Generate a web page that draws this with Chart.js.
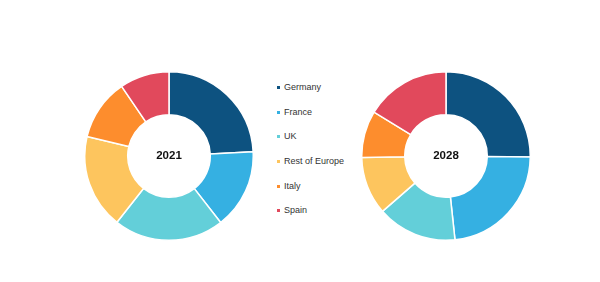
<!DOCTYPE html>
<html>
<head>
<meta charset="utf-8">
<script src="https://cdn.jsdelivr.net/npm/chart.js@4/dist/chart.umd.min.js"></script>
<style>
  html, body { margin: 0; padding: 0; background: #fff; }
  #wrap { position: relative; width: 600px; height: 282px; overflow: hidden; background: #fff; }
  canvas { position: absolute; }
  #c1 { left: 84px; top: 71px; }
  #c2 { left: 361px; top: 71px; }
  #legend { position: absolute; left: 276px; top: 81px; font-family: "Liberation Sans", Arial, sans-serif; font-size: 9px; color: #333; }
  .item { height: 24.7px; display: flex; align-items: flex-start; white-space: nowrap; line-height: 13px; }
  .sw { width: 3px; height: 3px; margin: 5px 4px 0 1px; flex: none; }
</style>
</head>
<body>
<div id="wrap">
  <canvas id="c1" width="170" height="170"></canvas>
  <canvas id="c2" width="170" height="170"></canvas>
  <div id="legend"></div>
</div>
<script>
const categories = ['Germany', 'France', 'UK', 'Rest of Europe', 'Italy', 'Spain'];
const share2021 = [24.2, 15.3, 21.1, 18.1, 11.8, 9.5];
const share2028 = [25.2, 23.1, 15.3, 11.1, 9.0, 16.3];
const yearLabels = ['2021', '2028'];
const colors = ['#0d5280', '#35b0e2', '#63cfd9', '#fdc55e', '#fd8d2d', '#e1495c'];

const centerText = {
  id: 'centerText',
  afterDraw(chart, args, opts) {
    const arc = chart.getDatasetMeta(0).data[0];
    if (!arc) return;
    const ctx = chart.ctx;
    ctx.save();
    ctx.font = 'bold 11.5px "Liberation Sans", Arial, sans-serif';
    ctx.fillStyle = '#111';
    ctx.textAlign = 'center';
    ctx.textBaseline = 'middle';
    ctx.fillText(opts.text, arc.x, arc.y);
    ctx.restore();
  }
};

function makeChart(id, values, year) {
  return new Chart(document.getElementById(id), {
    type: 'doughnut',
    data: {
      labels: categories,
      datasets: [{
        data: values,
        backgroundColor: colors,
        borderColor: '#ffffff',
        borderWidth: 1.5
      }]
    },
    options: {
      responsive: false,
      maintainAspectRatio: false,
      animation: false,
      cutout: '49%',
      layout: { padding: 0 },
      plugins: {
        legend: { display: false },
        tooltip: { enabled: false },
        centerText: { text: year }
      }
    },
    plugins: [centerText]
  });
}

makeChart('c1', share2021, yearLabels[0]);
makeChart('c2', share2028, yearLabels[1]);

const legend = document.getElementById('legend');
categories.forEach((name, i) => {
  const row = document.createElement('div');
  row.className = 'item';
  const sw = document.createElement('span');
  sw.className = 'sw';
  sw.style.background = colors[i];
  const tx = document.createElement('span');
  tx.textContent = name;
  row.appendChild(sw);
  row.appendChild(tx);
  legend.appendChild(row);
});
</script>
</body>
</html>
